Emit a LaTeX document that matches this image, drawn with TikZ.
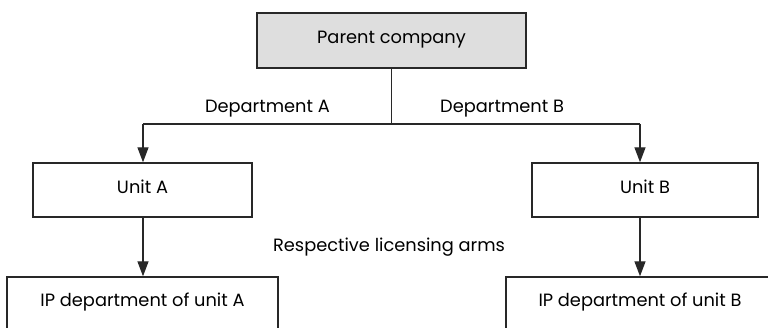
\documentclass[tikz,border=0pt]{standalone}
\usepackage{fontspec}
\setmainfont{Poppins}
\usetikzlibrary{arrows.meta}
\definecolor{linegray}{RGB}{40,40,40}
\definecolor{boxfill}{RGB}{222,222,222}
\tikzset{
  orgbox/.style={draw=linegray, line width=1.4pt, rectangle, inner sep=0pt,
    font=\fontsize{17.8}{21}\selectfont, text height=0.7em, text depth=0pt},
  lbl/.style={font=\fontsize{17.8}{21}\selectfont, inner sep=0pt},
  link/.style={draw=linegray, line width=1.4pt},
  arrowlink/.style={link, -{Triangle[length=15pt,width=11pt]}}
}
\begin{document}
\begin{tikzpicture}[x=1pt,y=-1pt]
  \useasboundingbox (0,0) rectangle (768,328);
  % boxes
  \node[orgbox, fill=boxfill, minimum width=269pt, minimum height=55pt] (parent) at (391.5,40.5) {Parent company};
  \node[orgbox, minimum width=219pt, minimum height=54pt] (unitA) at (142.5,190) {Unit A};
  \node[orgbox, minimum width=226pt, minimum height=54pt] (unitB) at (645,190) {Unit B};
  \node[orgbox, text depth=4pt, minimum width=271pt, minimum height=56pt] (ipA) at (142.5,305) {IP department of unit A};
  \node[orgbox, text depth=4pt, minimum width=268pt, minimum height=56pt] (ipB) at (640,305) {IP department of unit B};
  % branch points
  \coordinate (split) at (391.5,124);
  \coordinate (ja) at (143,124);
  \coordinate (jb) at (640,124);
  % connectors
  \draw[link] (parent.south) -- (split);
  \draw[link] (ja) -- (jb);
  \draw[arrowlink] (ja) -- (ja |- unitA.north);
  \draw[arrowlink] (jb) -- (jb |- unitB.north);
  \draw[arrowlink] (ja |- unitA.south) -- (ja |- ipA.north);
  \draw[arrowlink] (jb |- unitB.south) -- (jb |- ipB.north);
  % labels
  \node[lbl, anchor=base east] (deptA) at (330,113) {Department A};
  \node[lbl, anchor=base west] (deptB) at (440,113) {Department B};
  \node[lbl, anchor=base] (arms) at (389,252) {Respective licensing arms};
\end{tikzpicture}
\end{document}
